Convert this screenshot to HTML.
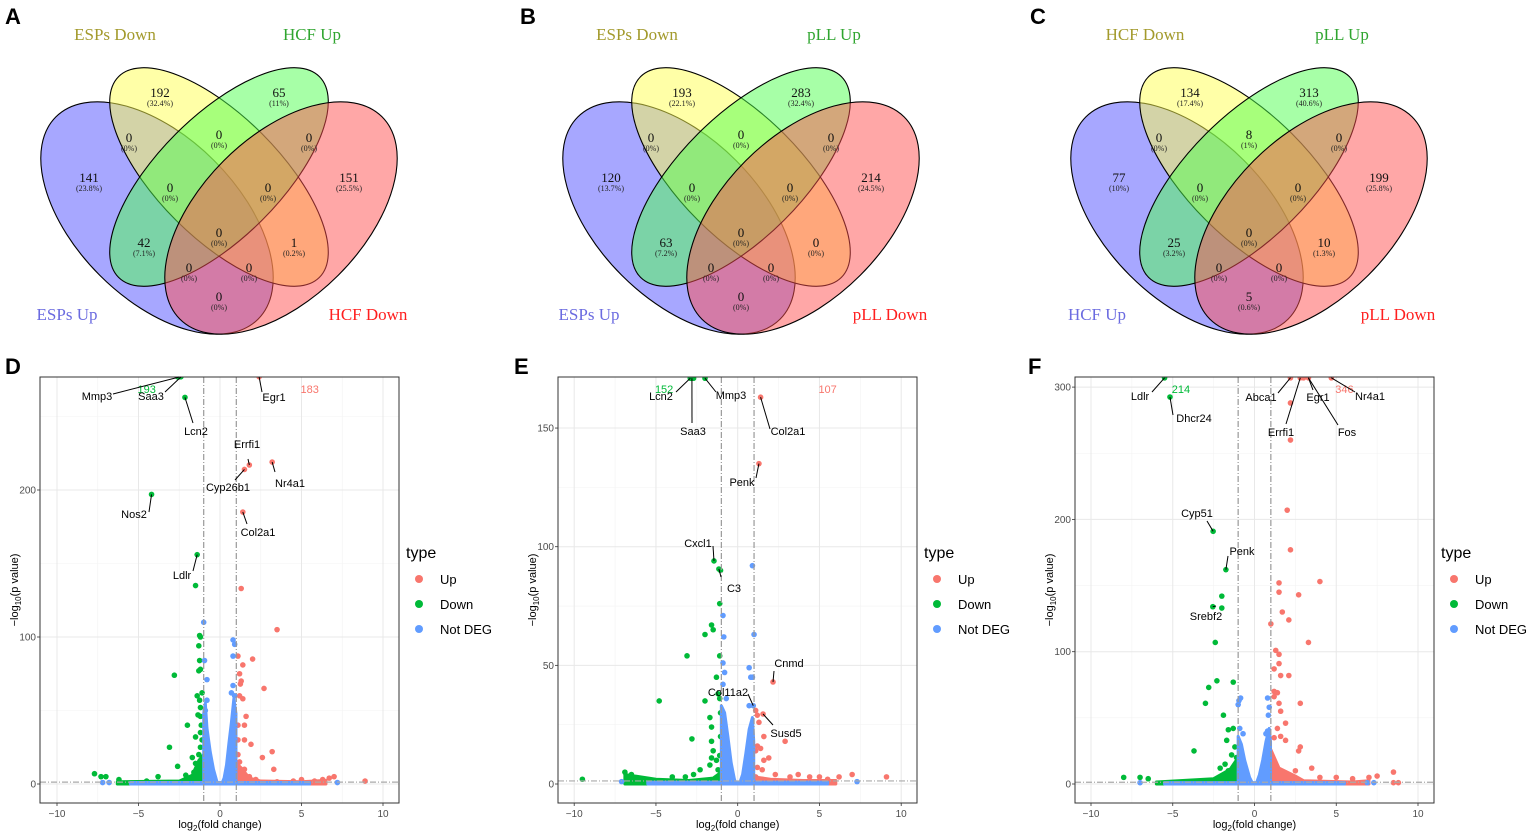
<!DOCTYPE html>
<html><head><meta charset="utf-8"><style>
html,body{margin:0;padding:0;background:#fff;}
svg{display:block;}
text{font-family:"Liberation Sans",sans-serif;}
.serif{font-family:"Liberation Serif",serif;}
</style></head><body>
<svg id="fig" width="1535" height="836" viewBox="0 0 1535 836">
<rect x="0" y="0" width="1535" height="836" fill="#fff"/>
</svg>
<script>
// ---------- Venn data ----------
const vennCountsA=[192,65,0,0,0,141,0,0,151,0,42,1,0,0,0];
const vennPctA=["32.4%","11%","0%","0%","0%","23.8%","0%","0%","25.5%","0%","7.1%","0.2%","0%","0%","0%"];
const vennCountsB=[193,283,0,0,0,120,0,0,214,0,63,0,0,0,0];
const vennPctB=["22.1%","32.4%","0%","0%","0%","13.7%","0%","0%","24.5%","0%","7.2%","0%","0%","0%","0%"];
const vennCountsC=[134,313,0,8,0,77,0,0,199,0,25,10,0,0,5];
const vennPctC=["17.4%","40.6%","0%","1%","0%","10%","0%","0%","25.8%","0%","3.2%","1.3%","0%","0%","0.6%"];
const vennSetsA=["ESPs Up","ESPs Down","HCF Up","HCF Down"];
const vennSetsB=["ESPs Up","ESPs Down","pLL Up","pLL Down"];
const vennSetsC=["HCF Up","HCF Down","pLL Up","pLL Down"];

// ---------- Volcano data (log2FC, -log10 p) ----------
const D_down=[[-2.5,277],[-2.4,277],[-2.6,277],[-2.15,263],[-4.2,197],[-1.4,156],[-1.5,135],[-2.8,74],[-1.2,100],[-1.25,101],[-1.3,94],[-1.25,84],[-1.3,77],[-1.2,78],[-1.1,62],[-1.4,60],[-1.25,57],[-1.2,52],[-1.35,47],[-1.2,46],[-2.0,40],[-1.5,32],[-3.1,25],[-2.6,12],[-1.7,18],[-1.3,20],[-2.1,6],[-7.7,7],[-7.3,5],[-7.0,5],[-6.2,3],[-3.8,5],[-4.5,2],[-1.5,14],[-1.1,30],[-1.15,40],[-1.6,8],[-1.4,10],[-1.2,25],[-1.2,35]];
const D_up=[[2.4,277],[1.8,217],[1.5,214],[3.2,219],[1.4,185],[1.3,133],[3.5,105],[1.1,87],[2.0,85],[1.4,81],[1.2,75],[1.3,70],[1.25,68],[2.7,65],[1.2,60],[1.4,58],[1.6,46],[1.5,40],[1.1,40],[1.1,30],[1.5,30],[1.9,27],[3.2,22],[2.6,18],[3.3,10],[1.5,10],[1.8,5],[2.2,3],[4.5,2],[5.0,3],[6.7,4],[7.0,5],[8.9,2],[6.3,3],[5.8,2],[3.5,1.5],[1.2,15],[1.1,20],[1.3,8],[1.1,12]];
const D_nd=[[-1.0,110],[-0.95,84],[-0.8,71],[0.8,98],[0.9,95],[0.8,87],[0.8,67],[0.7,62],[-0.8,57],[-7.2,1],[-6.8,1],[7.2,1],[0.9,60],[-0.9,50]];
const D_cloudBlueL=[[-1.0,0],[-1.0,48],[-0.9,55],[-0.8,38],[-0.6,22],[-0.4,10],[-0.2,2],[-0.1,0]];
const D_cloudBlueR=[[0.1,0],[0.25,4],[0.4,13],[0.55,28],[0.7,42],[0.85,58],[0.98,48],[0.98,0]];
const D_cloudBase=[[-5.5,0],[-5.5,1],[5.5,1],[5.5,0]];
const D_cloudGreen=[[-1.0,0],[-1.0,20],[-1.3,16],[-1.7,6],[-2.5,2],[-6.3,1.5],[-6.3,0]];
const D_cloudRed=[[1,0],[1,14],[1.3,11],[1.8,4],[2.5,2],[5,1.5],[6.5,2.5],[6.5,0]];
const D_yticks=[0,100,200];
const D_counts=[193,183];

const E_down=[[-2.9,171],[-2.8,171],[-2.7,171],[-2.0,171],[-1.45,94],[-1.15,90.6],[-1.05,90],[-1.1,76],[-1.6,67],[-1.5,65],[-2.0,63],[-3.1,54],[-1.1,54],[-1.3,45],[-4.8,35],[-2.0,35],[-1.2,38],[-1.1,36],[-1.7,28],[-1.6,24],[-2.8,19],[-1.6,18],[-1.5,14],[-1.6,11],[-1.7,8],[-2.3,6],[-2.7,4],[-9.5,2],[-6.9,5],[-6.5,4],[-3.2,3],[-4.0,3],[-1.3,10],[-1.2,6],[-1.1,12],[-1.05,20],[-1.05,30]];
const E_up=[[1.4,163],[1.3,135],[2.16,43],[1.55,29.5],[1.1,31],[1.2,29],[1.3,26],[2.9,18],[1.6,20],[1.2,16],[1.4,15],[1.1,14],[1.9,11],[1.6,10],[1.2,7],[1.5,6],[2.3,4],[3.2,3],[3.7,4],[4.4,3],[5.0,3],[5.5,2],[6.2,3],[7.0,4],[9.1,3],[1.1,3],[1.5,2]];
const E_nd=[[0.9,92],[-0.9,71],[1.0,63],[-0.85,62],[-0.9,51],[-0.8,47],[-0.9,42],[0.7,49],[0.8,45],[0.9,45],[0.95,33],[0.7,33],[-0.7,36],[-7.1,1],[7.3,1]];
const E_cloudBlueL=[[-1.0,0],[-1.0,33],[-0.8,30],[-0.6,20],[-0.4,9],[-0.2,2],[-0.1,0]];
const E_cloudBlueR=[[0.1,0],[0.3,4],[0.5,13],[0.7,23],[0.9,28],[0.98,18],[0.98,0]];
const E_cloudBase=[[-5.5,0],[-5.5,0.8],[5.5,0.8],[5.5,0]];
const E_cloudGreen=[[-1,0],[-1,5],[-1.5,2.5],[-3,1.5],[-5,2],[-6.9,4],[-6.9,0]];
const E_cloudRed=[[1,0],[1,3],[2,2],[4,1.5],[6,1.5],[6,0]];
const E_yticks=[0,50,100,150];
const E_counts=[152,107];

const F_down=[[-5.5,307],[-5.17,292.5],[-2.53,191],[-1.75,162],[-2.0,142],[-2.55,134],[-2.0,133],[-2.4,107],[-2.3,78],[-1.3,77],[-2.8,73],[-3.0,61],[-1.9,52],[-1.3,42],[-1.6,41],[-1.7,33],[-3.7,25],[-1.2,28],[-1.4,22],[-1.8,15],[-2.1,12],[-8.0,5],[-7.0,5],[-6.5,4],[-1.6,10],[-1.2,10],[-1.1,20]];
const F_up=[[2.2,307],[2.8,307],[3.0,307],[3.3,307],[4.7,307],[2.2,288],[2.2,260],[2.0,207],[2.2,177],[4.0,153],[1.5,152],[1.5,145],[2.7,143],[1.7,130],[2.1,124],[1.0,121],[3.3,107],[1.3,101],[1.5,98],[1.5,91],[1.2,87],[1.6,82],[2.1,82],[1.2,70],[1.4,69],[1.2,66],[1.5,61],[2.8,61],[1.6,55],[1.9,46],[1.4,42],[1.6,36],[1.2,35],[1.9,33],[2.8,28],[2.7,25],[3.5,12],[2.5,10],[4.0,5],[6,4],[7,5],[7.5,6],[8.5,9],[8.5,1],[8.8,1],[5.0,5]];
const F_nd=[[-1.0,60],[-0.85,65],[-0.95,63],[0.8,65],[0.9,58],[0.85,52],[-0.9,42],[-0.7,38],[0.8,40],[0.7,38],[-7,1],[6.9,1],[7.3,1]];
const F_cloudBlueL=[[-1,0],[-1,36],[-0.8,30],[-0.6,18],[-0.3,5],[-0.1,0]];
const F_cloudBlueR=[[0.1,0],[0.3,7],[0.5,18],[0.7,32],[0.9,42],[0.98,32],[0.98,0]];
const F_cloudBase=[[-5.5,0],[-5.5,1],[5.5,1],[5.5,0]];
const F_cloudGreen=[[-1,0],[-1,20],[-1.5,11],[-2.5,4],[-6,1.5],[-6,0]];
const F_cloudRed=[[1,0],[1,26],[1.5,12],[2.5,6],[3,2.5],[6,1.5],[7,2.5],[7,0]];
const F_yticks=[0,100,200,300];
const F_counts=[214,346];

// gene labels: [name, dataX, dataY]
const D_genes=[["Mmp3",-2.5,277],["Saa3",-2.4,277],["Lcn2",-2.15,263],["Egr1",2.4,277],["Errfi1",1.8,217],["Cyp26b1",1.5,214],["Nr4a1",3.2,219],["Nos2",-4.2,197],["Col2a1",1.4,185],["Ldlr",-1.4,156]];
const E_genes=[["Lcn2",-2.9,171],["Saa3",-2.8,171],["Mmp3",-2.0,171],["Col2a1",1.4,163],["Penk",1.3,135],["Cxcl1",-1.45,94],["C3",-1.15,90.6],["Cnmd",2.16,43],["Col11a2",0.95,33],["Susd5",1.55,29.5]];
const F_genes=[["Ldlr",-5.5,307],["Dhcr24",-5.17,292.5],["Abca1",2.2,307],["Errfi1",2.8,307],["Egr1",3.3,307],["Fos",3.3,307],["Nr4a1",4.7,307],["Cyp51",-2.53,191],["Penk",-1.75,162],["Srebf2",-2.55,134]];
// label layout (pixel text centre, leader start)
const D_layout=[[97,396,113,394],[151,396,165,392],[196,431,193,423],[274,397,262,392],[247,444,248,459],[228,487,235,480],[290,483,275,472],[134,514,149,512],[258,532,247,524],[182,575,193,571]];
const E_layout=[[661,396,676,392],[693,431,692,423],[731,395,716,392],[788,431,770,429],[742,482,756,478],[698,543,713,546],[734,588,721,577],[789,663,774,671],[728,692,748,694],[786,733,773,725]];
const F_layout=[[1140,396,1152,392],[1194,418,1173,415],[1261,397,1278,393],[1281,432,1286,424],[1318,397,1313,390],[1347,432,1338,425],[1370,396,1355,392],[1197,513,1207,521],[1242,551,1228,556],[1206,616,1216,606]];

const NS='http://www.w3.org/2000/svg';
function mk(tag,parent,attrs){const e=document.createElementNS(NS,tag);for(const k in attrs)e.setAttribute(k,attrs[k]);parent.appendChild(e);return e;}
const svg=document.getElementById('fig');

// panel letters
const letters=[["A",5,24],["B",520,24],["C",1030,24],["D",5,374],["E",514,374],["F",1028,374]];
letters.forEach(l=>{const t=mk('text',svg,{x:l[1],y:l[2],'font-size':22,'font-weight':'bold',fill:'#000'});t.textContent=l[0];

});

// ---------- Venn ----------
const regionPos=[[160,93],[279,93],[129,138],[219,135],[309,138],[89,178],[170,188],[268,188],[349,178],[219,233],[144,243],[294,243],[189,268],[249,268],[219,297]];
const ellipses=[[157,218,143,81,45,'#5050ff'],[219,177,142,61,45,'#ffff50'],[219,177,142,61,-45,'#50ff50'],[281,218,143,81,-45,'#ff5050']];
const setLabelPos=[[67,314,'#6b6be0'],[115,34,'#a39a2c'],[312,34,'#2fa52f'],[368,314,'#ff1f1f']];
function venn(ox,counts,pcts,sets,id){
  const g=mk('g',svg,{transform:'translate('+ox+',0)'});
  
  
  ellipses.forEach((e,i)=>{const el=mk('ellipse',g,{cx:0,cy:0,rx:e[2],ry:e[3],transform:'translate('+e[0]+','+e[1]+') rotate('+e[4]+')',fill:e[5],'fill-opacity':0.5,stroke:'#000','stroke-width':1.1});
    
    });
  regionPos.forEach((p,i)=>{
    const t=mk('text',g,{x:p[0],y:p[1]+4,'text-anchor':'middle','font-size':13,fill:'#111',class:'serif'});t.textContent=counts[i];
    
    
    const q=mk('text',g,{x:p[0],y:p[1]+13,'text-anchor':'middle','font-size':8,fill:'#222',class:'serif'});q.textContent='('+pcts[i]+')';
    
    
  });
  sets.forEach((s,i)=>{const p=setLabelPos[i];
    const t=mk('text',g,{x:p[0],y:p[1]+6,'text-anchor':'middle','font-size':17,fill:p[2],class:'serif'});t.textContent=s;
    
    });
}
venn(0,vennCountsA,vennPctA,vennSetsA,'a');
venn(522,vennCountsB,vennPctB,vennSetsB,'b');
venn(1030,vennCountsC,vennPctC,vennSetsC,'c');

// ---------- Volcano ----------
const UPC='#F8766D',DNC='#00BA38',NDC='#619CFF';
function volcano(id,P,down,up,nd,cBL,cBR,cBase,cG,cR,yticks,counts,genes,layout){
  const sx=v=>P.x0+v*P.xu, sy=v=>P.y0-v*P.yu;
  const g=mk('g',svg,{});
  
  
  const clip=mk('clipPath',g,{id:'clip'+id});mk('rect',clip,{x:P.l,y:P.t,width:P.r-P.l,height:P.b-P.t});
  mk('rect',g,{x:P.l,y:P.t,width:P.r-P.l,height:P.b-P.t,fill:'#fff'});
  // grid
  for(let v=-12.5;v<=12.5;v+=5){const x=sx(v);if(x>P.l&&x<P.r)mk('line',g,{x1:x,x2:x,y1:P.t,y2:P.b,stroke:'#f3f3f3','stroke-width':0.6});}
  const step=yticks[1]-yticks[0];
  for(let v=yticks[0]-step/2;v<=yticks[yticks.length-1]+step;v+=step){const y=sy(v);if(y>P.t&&y<P.b)mk('line',g,{x1:P.l,x2:P.r,y1:y,y2:y,stroke:'#f3f3f3','stroke-width':0.6});}
  [-10,-5,0,5,10].forEach(v=>{const x=sx(v);mk('line',g,{x1:x,x2:x,y1:P.t,y2:P.b,stroke:'#e8e8e8','stroke-width':1});
    const t=mk('text',g,{x:x,y:P.b+14,'text-anchor':'middle','font-size':10,fill:'#4d4d4d'});t.textContent=(v<0?'\u2212':'')+Math.abs(v);
    
    });
  yticks.forEach(v=>{const y=sy(v);mk('line',g,{x1:P.l,x2:P.r,y1:y,y2:y,stroke:'#e8e8e8','stroke-width':1});
    mk('line',g,{x1:P.l-3,x2:P.l,y1:y,y2:y,stroke:'#333','stroke-width':0.8});
    const t=mk('text',g,{x:P.l-4,y:y+3.5,'text-anchor':'end','font-size':10,fill:'#4d4d4d'});t.textContent=v;
    
    });
  [-10,-5,0,5,10].forEach(v=>mk('line',g,{x1:sx(v),x2:sx(v),y1:P.b,y2:P.b+3,stroke:'#333','stroke-width':0.8}));
  const pg=mk('g',g,{'clip-path':'url(#clip'+id+')'});
  function cloud(arr,col,name){const pts=arr.map(p=>sx(p[0])+','+sy(p[1])).join(' ');
    const c=mk('polygon',pg,{points:pts,fill:col,stroke:col,'stroke-width':3,'stroke-linejoin':'round'});
    
    }
  cloud(cG,DNC,'down-cloud');cloud(cR,UPC,'up-cloud');
  function pts(arr,col,name){arr.forEach(p=>{const c=mk('circle',pg,{cx:sx(p[0]),cy:sy(p[1]),r:2.8,fill:col});
    
    });}
  pts(down,DNC,'down-point');pts(up,UPC,'up-point');
  cloud(cBase,NDC,'not-deg-baseline');cloud(cBL,NDC,'not-deg-cloud-left');cloud(cBR,NDC,'not-deg-cloud-right');
  pts(nd,NDC,'not-deg-point');
  // thresholds
  [-1,1].forEach(v=>{const l=mk('line',pg,{x1:sx(v),x2:sx(v),y1:P.t,y2:P.b,stroke:'#999','stroke-width':1.2,'stroke-dasharray':'6,2,1,2'});
    
    });
  const hl=mk('line',pg,{x1:P.l,x2:P.r,y1:sy(1.3),y2:sy(1.3),stroke:'#aaa','stroke-width':1.2,'stroke-dasharray':'6,2,1,2'});
  
  
  mk('rect',g,{x:P.l,y:P.t,width:P.r-P.l,height:P.b-P.t,fill:'none',stroke:'#333','stroke-width':1});
  // counts
  const cd=mk('text',g,{x:sx(-4.5),y:P.t+16,'text-anchor':'middle','font-size':11,fill:DNC});cd.textContent=counts[0];
  
  
  const cu=mk('text',g,{x:sx(5.5),y:P.t+16,'text-anchor':'middle','font-size':11,fill:UPC});cu.textContent=counts[1];
  
  
  // gene labels
  genes.forEach((gn,i)=>{const L=layout[i];
    mk('line',g,{x1:L[2],y1:L[3],x2:sx(gn[1]),y2:Math.max(sy(gn[2]),P.t),stroke:'#000','stroke-width':1});
    const t=mk('text',g,{x:L[0],y:L[1]+4,'text-anchor':'middle','font-size':11,fill:'#000'});t.textContent=gn[0];
    
    });
  // axis titles
  const xt=mk('text',g,{x:P.x0,y:828,'text-anchor':'middle','font-size':11,fill:'#000'});
  xt.innerHTML='log<tspan font-size="8" dy="3">2</tspan><tspan dy="-3">(fold change)</tspan>';
  
  
  const yt=mk('text',g,{x:0,y:0,'text-anchor':'middle','font-size':11,fill:'#000',transform:'translate('+(P.l-22)+',590) rotate(-90)'});
  yt.innerHTML='\u2212log<tspan font-size="8" dy="3">10</tspan><tspan dy="-3">(p value)</tspan>';
  
  
  // legend
  const lg=mk('g',g,{});
  
  
  const lt=mk('text',lg,{x:P.r+7,y:558,'font-size':16,fill:'#000'});lt.textContent='type';
  [['Up',UPC],['Down',DNC],['Not DEG',NDC]].forEach((e,i)=>{
    const c=mk('circle',lg,{cx:P.r+20,cy:579+i*25,r:4,fill:e[1]});
    
    
    const t=mk('text',lg,{x:P.r+41,y:584+i*25,'font-size':13,fill:'#000'});t.textContent=e[0];
    
    });
}
volcano('d',{l:40,r:399,t:377,b:803,x0:220,xu:16.3,y0:784,yu:1.47},D_down,D_up,D_nd,D_cloudBlueL,D_cloudBlueR,D_cloudBase,D_cloudGreen,D_cloudRed,D_yticks,D_counts,D_genes,D_layout);
volcano('e',{l:558,r:917,t:377,b:803,x0:737.7,xu:16.35,y0:784,yu:2.373},E_down,E_up,E_nd,E_cloudBlueL,E_cloudBlueR,E_cloudBase,E_cloudGreen,E_cloudRed,E_yticks,E_counts,E_genes,E_layout);
volcano('f',{l:1075,r:1434,t:377,b:803,x0:1254.5,xu:16.35,y0:784,yu:1.323},F_down,F_up,F_nd,F_cloudBlueL,F_cloudBlueR,F_cloudBase,F_cloudGreen,F_cloudRed,F_yticks,F_counts,F_genes,F_layout);
</script>
</body></html>
